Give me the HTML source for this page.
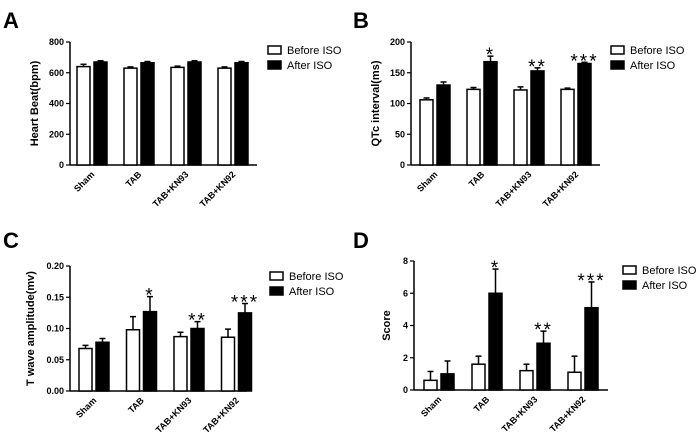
<!DOCTYPE html>
<html><head><meta charset="utf-8"><style>
body{margin:0;background:#fff}
svg{display:block;font-family:"Liberation Sans",Arial,sans-serif}
</style></head><body>
<svg id="fig" width="700" height="439" viewBox="0 0 700 439" xmlns="http://www.w3.org/2000/svg"></svg>
<script>
const categories = ["Sham","TAB","TAB+KN93","TAB+KN92"];
const stars = ["","*","**","***"];
const aBefore=[640,630,635,630], aBeforeErr=[15,8,8,8];
const aAfter=[670,665,670,665], aAfterErr=[8,8,8,8];
const aTicks=[0,200,400,600,800];
const bBefore=[106,123,122,123], bBeforeErr=[3,3,5,2];
const bAfter=[130,168,153,165], bAfterErr=[5,9,5,2];
const bTicks=[0,50,100,150,200];
const cBefore=[0.068,0.098,0.087,0.086], cBeforeErr=[0.005,0.021,0.007,0.013];
const cAfter=[0.078,0.127,0.100,0.125], cAfterErr=[0.006,0.024,0.011,0.015];
const cTicks=[0,0.05,0.10,0.15,0.20];
const cTickLabels=["0.00","0.05","0.10","0.15","0.20"];
const dBefore=[0.6,1.6,1.2,1.1], dBeforeErr=[0.55,0.5,0.4,1.0];
const dAfter=[1.0,6.0,2.9,5.1], dAfterErr=[0.8,1.5,0.75,1.6];
const dTicks=[0,2,4,6,8];

const NS="http://www.w3.org/2000/svg";
const svg=document.getElementById('fig');
function mk(tag,attrs,parent,text){const e=document.createElementNS(NS,tag);for(const k in attrs)e.setAttribute(k,attrs[k]);if(text!==undefined)e.textContent=text;(parent||svg).appendChild(e);return e;}

function panel(p){
  const g=mk('g',{});
  
  
  const max=p.ticks[p.ticks.length-1];
  const y=v=>p.y0-(v/max)*(p.y0-p.yTop);
  const xc=i=>p.x0+p.first+i*p.step;
  const L=mk('text',{x:p.lx,y:p.ly,'font-size':22,'font-weight':'bold'},g,p.letter);
  
  
  mk('line',{x1:p.x0,y1:p.yTop,x2:p.x0,y2:p.y0,stroke:'#000','stroke-width':1.5},g);
  mk('line',{x1:p.x0,y1:p.y0,x2:p.xEnd,y2:p.y0,stroke:'#000','stroke-width':1.5},g);
  p.ticks.forEach((t,i)=>{
    mk('line',{x1:p.x0-4,y1:y(t),x2:p.x0,y2:y(t),stroke:'#000','stroke-width':1.2},g);
    const tl=mk('text',{x:p.x0-6,y:y(t)+3,'font-size':9,'font-weight':'bold','text-anchor':'end'},g,p.labels?p.labels[i]:String(t));
    
    
  });
  const yt=mk('text',{x:0,y:0,'font-size':11,'font-weight':'bold','text-anchor':'middle',transform:`translate(${p.x0-p.titleOff},${(p.y0+p.yTop)/2}) rotate(-90)`},g,p.title);
  
  
  const bw=13;
  categories.forEach((c,i)=>{
    const cx=xc(i);
    [[p.before,p.beforeErr,'#fff',cx-bw-2],[p.after,p.afterErr,'#000',cx+2]].forEach(([vals,errs,fill,bx],s)=>{
      const top=y(vals[i]), et=y(vals[i]+errs[i]);
      mk('line',{x1:bx+bw/2,y1:top,x2:bx+bw/2,y2:et,stroke:'#000','stroke-width':1.5},g);
      mk('line',{x1:bx+bw/2-3,y1:et,x2:bx+bw/2+3,y2:et,stroke:'#000','stroke-width':1.5},g);
      const r=mk('rect',{x:bx,y:top,width:bw,height:p.y0-top,fill:fill,stroke:'#000','stroke-width':1.5},g);
      
      
      if(s===1&&p.stars&&stars[i]){
        const st=mk('text',{x:bx+bw/2,y:et+5,'font-size':19,'text-anchor':'middle','letter-spacing':2},g,stars[i]);
        
        
      }
    });
    const xl=mk('text',{x:0,y:0,'font-size':9,'font-weight':'bold','text-anchor':'end',transform:`translate(${cx+3},${p.y0+10}) rotate(-45)`},g,c);
    
    
  });
  [['Before ISO','#fff'],['After ISO','#000']].forEach(([t,f],k)=>{
    const ly=p.legY+k*15;
    const lr=mk('rect',{x:p.legX,y:ly,width:13,height:8,fill:f,stroke:'#000','stroke-width':1.5},g);
    
    
    const lt=mk('text',{x:p.legX+19,y:ly+8,'font-size':11},g,t);
    
    
  });
}
panel({letter:'A',lx:3,ly:28,x0:70,xEnd:257,y0:165,yTop:42,first:22,step:47,ticks:aTicks,title:'Heart Beat(bpm)',titleOff:32,before:aBefore,beforeErr:aBeforeErr,after:aAfter,afterErr:aAfterErr,stars:false,legX:268,legY:46});
panel({letter:'B',lx:353,ly:28,x0:411,xEnd:600,y0:165,yTop:42,first:24,step:47,ticks:bTicks,title:'QTc interval(ms)',titleOff:32,before:bBefore,beforeErr:bBeforeErr,after:bAfter,afterErr:bAfterErr,stars:true,legX:611,legY:46});
panel({letter:'C',lx:3,ly:248,x0:70,xEnd:247,y0:391,yTop:266,first:24,step:47.5,ticks:cTicks,labels:cTickLabels,title:'T wave amplitude(mv)',titleOff:36,before:cBefore,beforeErr:cBeforeErr,after:cAfter,afterErr:cAfterErr,stars:true,legX:270,legY:272});
panel({letter:'D',lx:353,ly:248,x0:414,xEnd:608,y0:390,yTop:261,first:25,step:48,ticks:dTicks,title:'Score',titleOff:24,before:dBefore,beforeErr:dBeforeErr,after:dAfter,afterErr:dAfterErr,stars:true,legX:623,legY:266});
</script>
</body></html>
